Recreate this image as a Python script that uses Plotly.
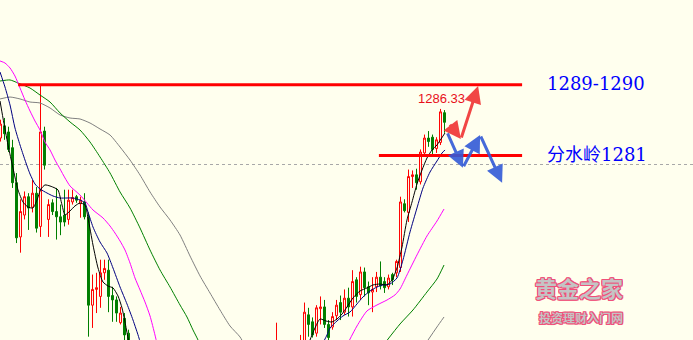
import plotly.graph_objects as go

# ---------------- data ----------------
cdl_idx = list(range(0, 33)) + [69] + list(range(75, 112))
cdl_open = [1283.0, 1284.4, 1283.7, 1281.9, 1277.9, 1271.7, 1274.2, 1276.3, 1275.1, 1276.7,
            1272.9, 1283.8, 1273.7, 1275.6, 1274.6, 1274.0, 1274.2, 1273.7, 1275.7, 1276.3,
            1275.5, 1275.7, 1274.0, 1263.9, 1265.7, 1264.9, 1267.6, 1267.9, 1265.0, 1264.5,
            1261.9, 1262.4, 1260.7,
            1258.8,
            1257.5, 1259.4, 1262.8, 1262.0, 1260.7, 1263.5, 1263.7, 1261.7, 1261.4, 1262.7,
            1264.2, 1263.1, 1264.7, 1263.7, 1266.8, 1265.1, 1267.7, 1266.0, 1265.4, 1266.0,
            1267.1, 1266.6, 1266.0, 1267.4, 1267.6, 1268.2, 1275.5, 1274.5, 1278.6, 1278.8,
            1278.0, 1281.3, 1283.0, 1283.1, 1281.8, 1282.5, 1285.9]
cdl_high = [1285.1, 1285.3, 1284.3, 1282.8, 1279.0, 1276.0, 1276.9, 1276.7, 1278.2, 1277.4,
            1289.1, 1284.3, 1276.0, 1276.0, 1277.3, 1275.4, 1277.1, 1277.1, 1277.1, 1276.5,
            1276.3, 1276.7, 1274.5, 1267.4, 1267.6, 1269.1, 1269.1, 1269.1, 1266.0, 1264.9,
            1263.7, 1263.0, 1261.1,
            1261.9,
            1260.5, 1264.2, 1263.6, 1262.5, 1263.9, 1264.9, 1264.5, 1262.2, 1263.1, 1264.5,
            1265.0, 1265.7, 1265.9, 1267.9, 1267.1, 1268.3, 1268.2, 1266.6, 1267.1, 1267.7,
            1268.9, 1267.1, 1267.4, 1267.6, 1269.1, 1276.3, 1276.0, 1279.4, 1279.3, 1279.5,
            1281.7, 1283.4, 1283.8, 1283.4, 1283.1, 1286.33, 1286.2]
cdl_low = [1282.6, 1282.8, 1281.4, 1277.3, 1271.0, 1269.9, 1273.7, 1272.5, 1274.5, 1272.2,
           1271.7, 1279.4, 1271.7, 1274.2, 1271.4, 1271.9, 1272.9, 1273.1, 1275.4, 1275.6,
           1273.9, 1273.7, 1260.3, 1261.3, 1263.0, 1263.6, 1266.8, 1263.1, 1262.0, 1262.0,
           1261.7, 1259.9, 1258.2,
           1258.2,
           1256.5, 1259.0, 1260.3, 1260.2, 1260.3, 1261.7, 1261.3, 1259.9, 1261.1, 1262.2,
           1262.2, 1262.8, 1262.6, 1262.6, 1264.2, 1264.5, 1264.9, 1263.9, 1263.1, 1265.4,
           1265.7, 1265.3, 1265.7, 1266.2, 1267.1, 1267.7, 1274.5, 1273.4, 1277.3, 1277.1,
           1277.7, 1281.1, 1282.0, 1281.1, 1281.3, 1282.2, 1283.6]
cdl_close = [1284.6, 1283.5, 1281.7, 1277.9, 1271.6, 1274.6, 1276.3, 1275.0, 1276.7, 1272.7,
             1283.7, 1279.9, 1275.4, 1274.6, 1274.0, 1273.4, 1273.4, 1275.9, 1276.2, 1275.9,
             1275.9, 1274.0, 1263.9, 1265.7, 1265.9, 1267.6, 1268.1, 1264.9, 1264.5, 1263.0,
             1263.0, 1260.5, 1258.8,
             1259.7,
             1259.0, 1263.1, 1261.7, 1260.5, 1263.6, 1263.7, 1261.7, 1260.2, 1262.6, 1263.9,
             1263.1, 1264.7, 1263.7, 1266.6, 1264.9, 1267.7, 1265.9, 1265.3, 1265.7, 1267.1,
             1266.1, 1265.9, 1267.0, 1266.8, 1268.9, 1275.7, 1274.7, 1278.6, 1278.8, 1277.9,
             1281.4, 1283.0, 1282.6, 1281.7, 1282.8, 1286.0, 1284.8]

# moving averages (candle position, price); None separates the two visible stretches
ma5_x = [-0.12, 0.62, 1.88, 3.12, 4.38, 5.62, 6.88, 8.12, 9.12, 10.12, 11.12, 12.38, 13.62, 14.38,
         15.38, 16.12, 17.38, 18.62, 19.88, 21.12, 21.88, 23.12, 24.38, 25.62, 26.88, 28.12,
         29.38, 30.38, 31.12, 31.88, 32.62, None,
         76.62, 77.38, 78.62, 79.88, 81.38, 82.88, 84.12, 85.38, 86.62, 88.12, 89.88, 91.62,
         93.12, 94.88, 96.62, 97.88, 99.12, 100.38, 101.62, 102.88, 104.12, 105.38, 106.62,
         107.88, 109.12, 110.12, 111.12]
ma5_y = [1287.24, 1285.29, 1282.21, 1279.58, 1277.07, 1275.69, 1275.12, 1275.01, 1275.92, 1277.18,
         1277.64, 1277.52, 1277.29, 1277.07, 1275.35, 1274.21, 1274.67, 1275.24, 1275.58, 1275.35,
         1273.87, 1270.78, 1268.15, 1266.55, 1266.09, 1265.87, 1264.95, 1263.58, 1261.98, 1260.15,
         1258.55, None,
         1258.78, 1259.92, 1261.29, 1262.32, 1262.09, 1261.98, 1262.32, 1262.89, 1263.69, 1264.72,
         1265.52, 1265.87, 1266.21, 1266.32, 1266.21, 1266.78, 1268.15, 1270.55, 1273.64, 1275.69,
         1277.75, 1279.35, 1280.72, 1281.64, 1282.21, 1282.89, 1283.58]

ma10_x = [-0.12, 1.12, 2.38, 3.62, 4.88, 6.12, 7.38, 8.62, 9.88, 11.62, 13.12, 14.88, 16.62, 18.12,
          19.88, 21.12, 21.88, 23.12, 24.88, 26.62, 28.12, 29.88, 31.62, 33.12, 34.62, 35.38, None,
          80.62, 81.62, 82.38, 84.12, 85.62, 87.38, 89.12, 90.62, 92.38, 94.12, 95.62, 97.38,
          99.12, 100.62, 102.38, 104.12, 105.62, 107.38, 109.12, 110.38, 111.12]
ma10_y = [1290.55, 1288.84, 1286.78, 1284.15, 1282.21, 1280.49, 1278.89, 1277.75, 1277.18, 1276.72,
          1276.38, 1276.15, 1276.15, 1276.15, 1275.92, 1275.58, 1274.55, 1272.84, 1271.12, 1269.87,
          1268.15, 1265.98, 1264.04, 1262.21, 1260.15, 1258.78, None,
          1259.58, 1260.49, 1261.29, 1262.09, 1262.67, 1263.12, 1264.04, 1264.84, 1265.52, 1265.98,
          1266.21, 1266.32, 1267.01, 1269.07, 1272.27, 1275.01, 1277.29, 1279.12, 1280.38, 1281.29,
          1281.64]

ma20_x = [-0.12, 1.12, 2.38, 3.62, 4.88, 6.12, 7.38, 8.62, 9.88, 11.12, 12.38, 13.62, 14.88, 16.12,
          17.38, 19.88, 21.62, 23.12, 25.62, 27.38, 28.62, 29.88, 31.12, 32.38, 33.62, 34.88,
          36.12, 37.38, 38.62, 39.38, None,
          86.88, 89.12, 91.62, 94.12, 96.62, 98.62, 99.88, 101.62, 104.12, 106.62, 109.12, 110.88]
ma20_y = [1291.81, 1291.58, 1291.01, 1290.09, 1288.72, 1287.35, 1286.09, 1284.95, 1283.92, 1282.55,
          1281.64, 1280.49, 1279.47, 1278.44, 1277.52, 1276.49, 1275.58, 1274.78, 1273.87, 1272.95,
          1272.15, 1271.24, 1270.21, 1268.72, 1267.01, 1265.64, 1264.27, 1262.67, 1260.49, 1259.01,
          None,
          1259.58, 1261.52, 1263.24, 1263.92, 1264.49, 1265.07, 1265.75, 1267.35, 1269.64, 1271.81,
          1273.52, 1274.89]

ma40_x = [-0.12, 2.38, 4.38, 7.38, 9.88, 12.38, 14.88, 17.38, 19.88, 22.38, 24.88, 27.38, 29.88,
          32.38, 34.88, 37.38, 39.88, 42.38, 44.88, 46.62, 48.12, 49.38, 50.12, None,
          96.12, 99.88, 103.12, 106.62, 109.12, 110.88]
ma40_y = [1289.52, 1289.64, 1289.29, 1288.72, 1287.92, 1287.12, 1285.87, 1284.84, 1283.92, 1282.55,
          1280.84, 1279.01, 1276.84, 1275.01, 1272.72, 1270.21, 1267.92, 1265.98, 1263.92, 1262.55,
          1261.07, 1259.92, 1259.01, None,
          1259.58, 1261.75, 1263.35, 1265.41, 1266.89, 1268.49]

ma60_x = [-0.12, 2.38, 4.88, 7.38, 9.88, 12.38, 14.88, 17.38, 19.88, 22.38, 24.88, 27.38, 29.88,
          32.38, 34.88, 37.38, 39.88, 42.38, 44.88, 47.38, 49.88, 52.38, 54.88, 57.38, 59.88,
          61.38, None,
          106.38, 109.12, 110.88]
ma60_y = [1287.47, 1287.69, 1287.47, 1287.12, 1287.01, 1286.44, 1285.64, 1285.29, 1285.18, 1284.72,
          1284.04, 1283.35, 1281.98, 1280.49, 1278.78, 1276.84, 1275.12, 1273.64, 1271.92, 1269.52,
          1267.24, 1265.29, 1263.35, 1261.52, 1260.27, 1259.01, None,
          1259.58, 1261.41, 1262.55]

level_top = 1289.1
level_mid = 1281.0
level_top_label = "1289-1290"
level_mid_label = "分水岭1281"
high_label = "1286.33"
grid_levels = [1260, 1280]
watermark_title = "黄金之家"
watermark_sub = "投资理财入门网"

BG = "#FFFFEE"

fig = go.Figure()

ma_styles = [(ma60_x, ma60_y, "#808080"), (ma40_x, ma40_y, "#008000"),
             (ma20_x, ma20_y, "#FF00FF"), (ma10_x, ma10_y, "#000080"),
             (ma5_x, ma5_y, "#000000")]
for xs, ys, col in ma_styles:
    fig.add_trace(go.Scatter(x=xs, y=ys, mode="lines", connectgaps=False,
                             line=dict(color=col, width=1, shape="spline", smoothing=0.6),
                             hoverinfo="skip", showlegend=False))

fig.add_trace(go.Candlestick(
    x=cdl_idx, open=cdl_open, high=cdl_high, low=cdl_low, close=cdl_close,
    increasing=dict(line=dict(color="#FF0000", width=1), fillcolor=BG),
    decreasing=dict(line=dict(color="#007F00", width=1), fillcolor="#007F00"),
    whiskerwidth=0, showlegend=False))

# horizontal level lines
fig.add_shape(type="line", xref="x", yref="y", x0=4.4, x1=130.4, y0=level_top, y1=level_top,
              line=dict(color="#FF0000", width=3))
fig.add_shape(type="line", xref="x", yref="y", x0=94.6, x1=130.4, y0=level_mid, y1=level_mid,
              line=dict(color="#FF0000", width=3))

txt_font = dict(family="DejaVu Serif, Noto Sans CJK SC", size=18, color="#0000FF")
fig.add_annotation(x=545 / 693, y=1 - 83 / 340, xref="paper", yref="paper", text=level_top_label,
                   showarrow=False, xanchor="left", yanchor="middle", font=txt_font)
fig.add_annotation(x=545 / 693, y=1 - 155 / 340, xref="paper", yref="paper", text=level_mid_label,
                   showarrow=False, xanchor="left", yanchor="middle", font=txt_font)

fig.add_annotation(x=110.3, y=cdl_high[-2], xref="x", yref="y", text=high_label, showarrow=False,
                   xanchor="center", yanchor="bottom", yshift=1,
                   font=dict(family="Liberation Sans, Arial", size=13, color="#E8101A"))

# scenario arrows
red_c = "rgba(240,50,50,0.9)"
blue_c = "rgba(50,90,215,0.9)"
arrows = [
    (112.1, 1284.7, 115.1, 1282.9, red_c),
    (115.1, 1282.9, 119.4, 1288.95, red_c),
    (111.6, 1283.7, 115.6, 1279.6, blue_c),
    (115.6, 1279.6, 119.9, 1283.35, blue_c),
    (119.9, 1283.35, 125.4, 1277.9, blue_c),
]
for ax_, ay_, x_, y_, c in arrows:
    fig.add_annotation(x=x_, y=y_, ax=ax_, ay=ay_, xref="x", yref="y", axref="x", ayref="y",
                       text="", showarrow=True, arrowhead=2, arrowsize=1.15, arrowwidth=3,
                       arrowcolor=c, standoff=0, startstandoff=0)

# watermark (grey letters with pink outline via text shadow)
pk = "#F0507A"
outline = ", ".join(f"{dx}px {dy}px 0 {pk}" for dx, dy in
                    [(-1, -1), (-1, 0), (-1, 1), (0, -1), (0, 1), (1, -1), (1, 0), (1, 1)])
for t, px, py, sz in [(watermark_title, 625, 305, 22), (watermark_sub, 625, 328, 12)]:
    fig.add_annotation(x=px / 693, y=1 - py / 340, xref="paper", yref="paper",
                       text=f"<b>{t}</b>", showarrow=False,
                       font=dict(family="Noto Sans CJK SC", size=sz, color="#C4C4C4",
                                 shadow=outline))

fig.update_layout(
    width=693, height=340, margin=dict(l=0, r=0, t=0, b=0),
    paper_bgcolor=BG, plot_bgcolor=BG, showlegend=False,
    xaxis=dict(range=[-0.125, 173.125], visible=False, rangeslider=dict(visible=False),
               fixedrange=True),
    yaxis=dict(range=[1259.92, 1298.78], showticklabels=False, ticks="", zeroline=False,
               showline=False, tickvals=grid_levels, showgrid=True, gridcolor="#A8A8A8",
               gridwidth=1, griddash="dot", fixedrange=True),
)

fig.write_html("out.html")
